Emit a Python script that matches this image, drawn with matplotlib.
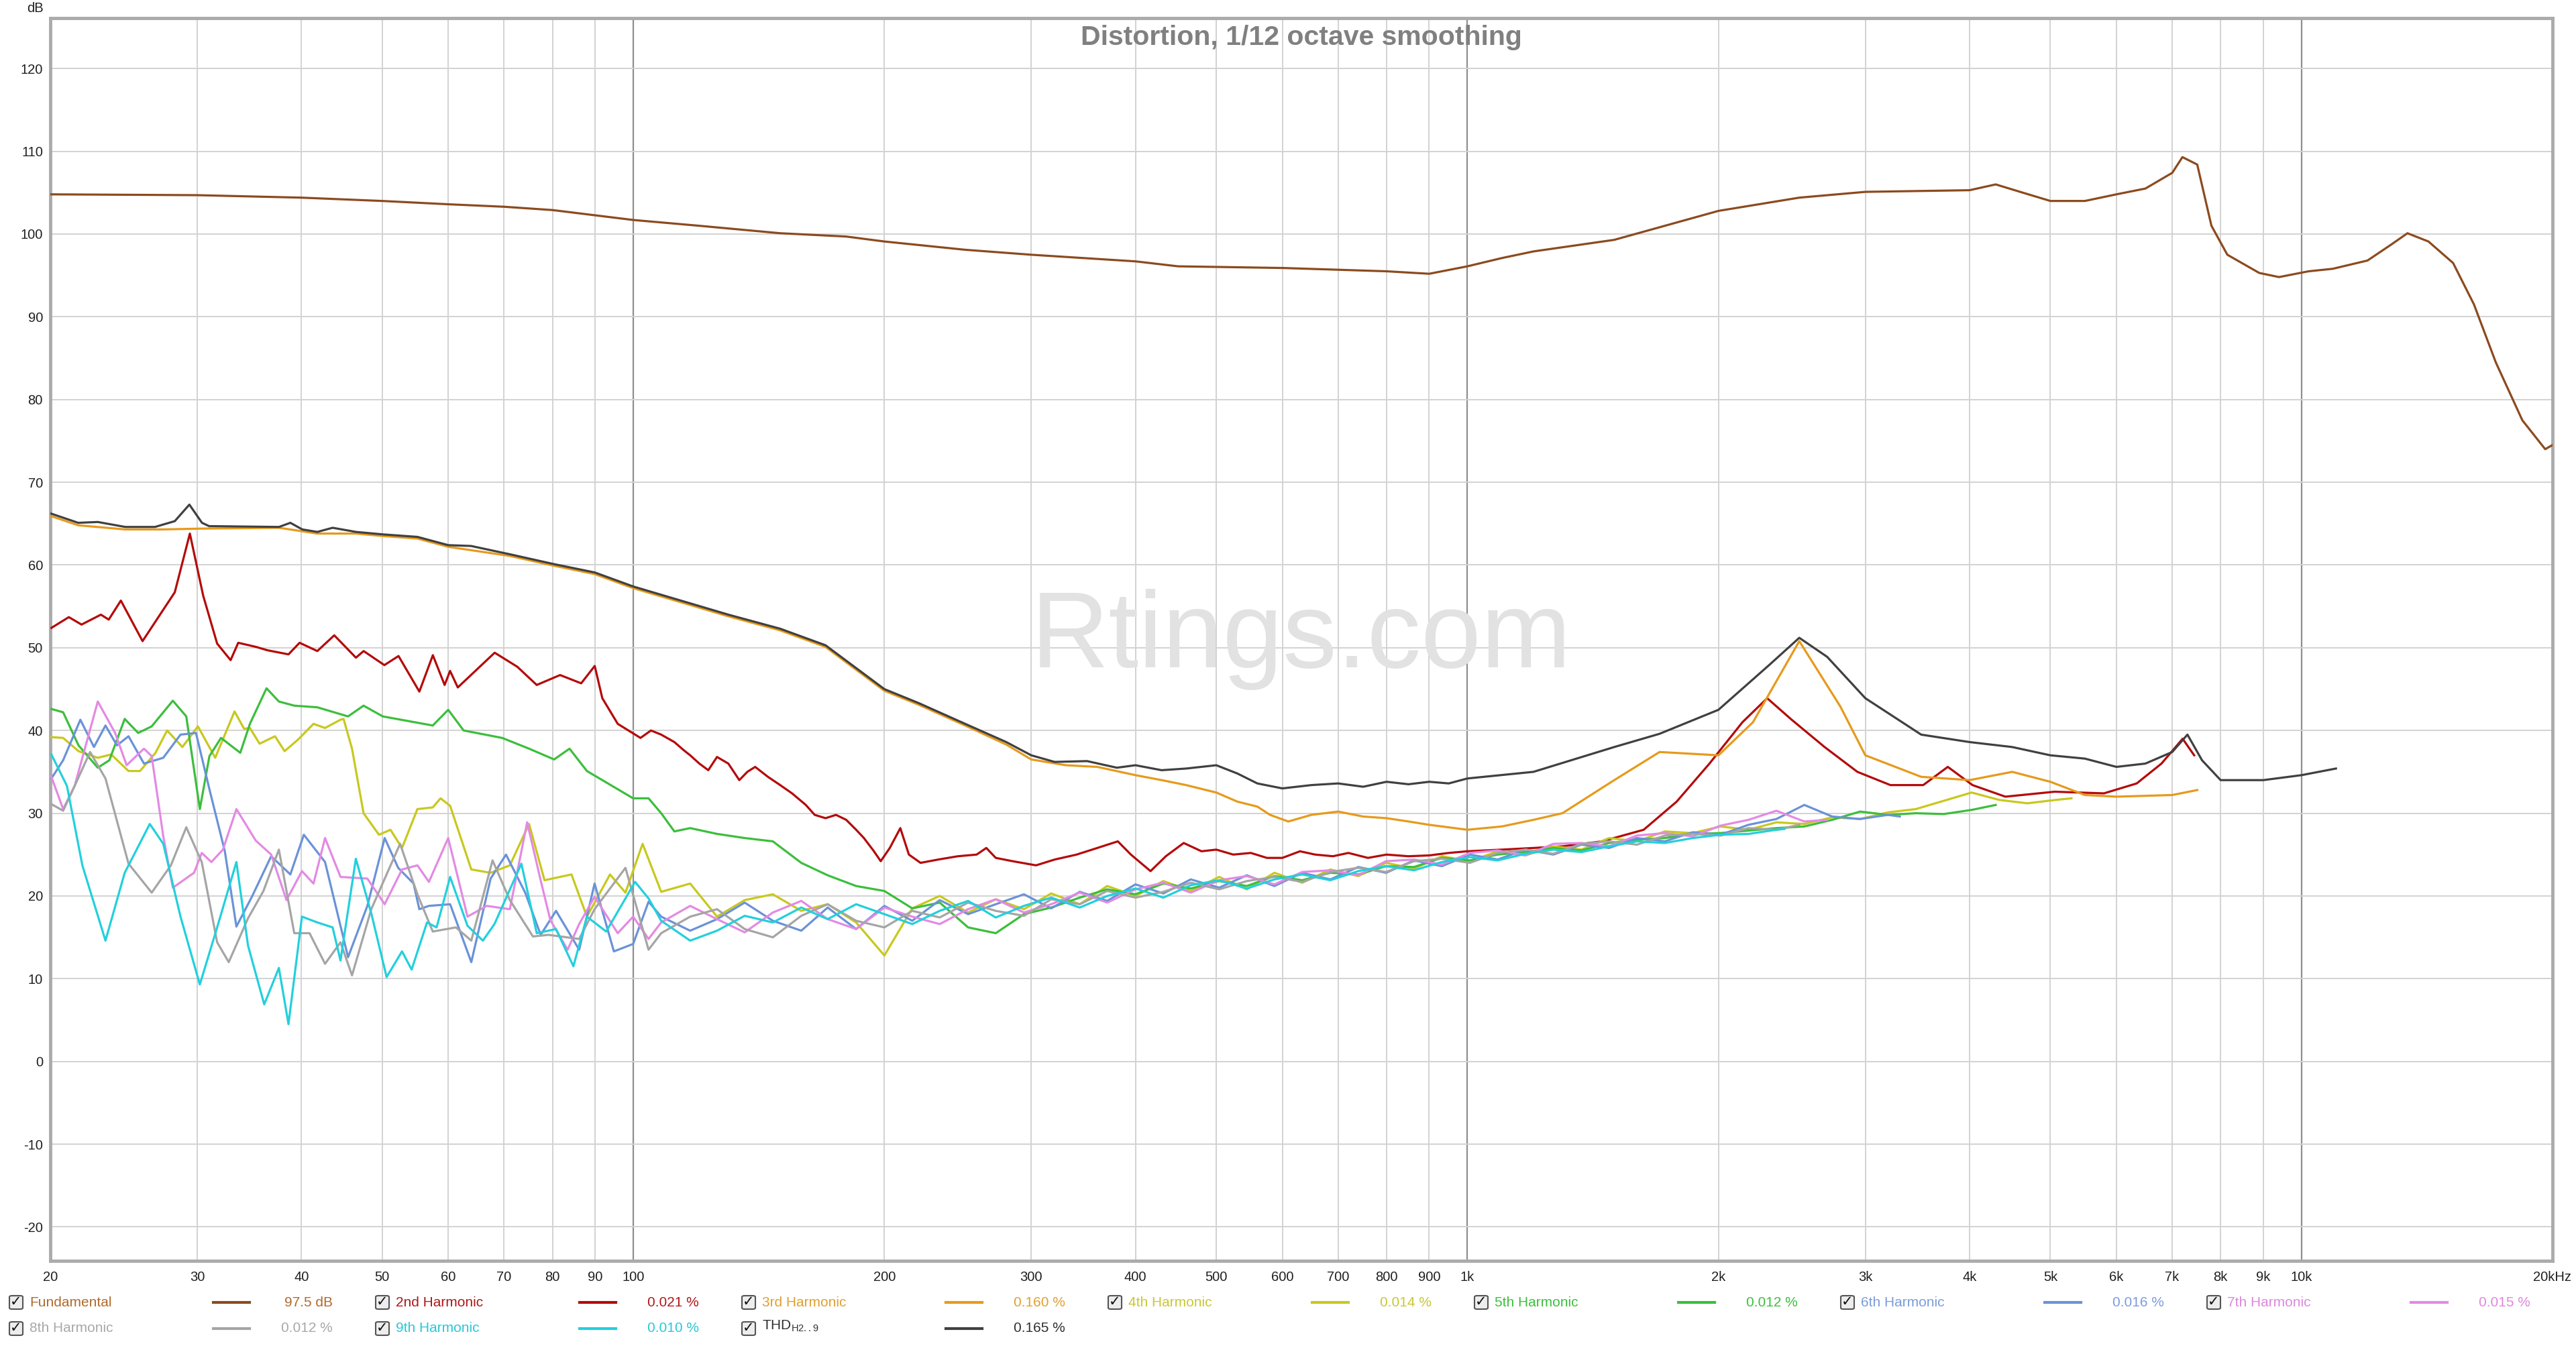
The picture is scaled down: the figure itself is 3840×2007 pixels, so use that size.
import matplotlib
matplotlib.use('Agg')
import matplotlib.pyplot as plt
from matplotlib.patches import FancyBboxPatch
from matplotlib.ticker import NullLocator

plt.rcParams['font.family'] = ['Liberation Sans', 'DejaVu Sans']

# ---------------- data (frequency in Hz, level in dB) ----------------
fund_f = [20, 30, 40, 50, 60, 70, 80, 100, 120, 150, 180, 200, 250, 300, 400, 450, 600, 800, 900,
          1000, 1100, 1200, 1500, 2000, 2500, 3000, 4000, 4300, 4600, 5000, 5500, 6000, 6500, 7000,
          7200, 7500, 7800, 8150, 8900, 9400, 10200, 10900, 12000, 12800, 13400, 14200, 15200,
          16100, 17100, 18400, 19600, 20000]
fund_db = [104.8, 104.7, 104.4, 104.0, 103.6, 103.3, 102.9, 101.7, 101.0, 100.1, 99.7, 99.1, 98.1,
           97.5, 96.7, 96.1, 95.9, 95.5, 95.2, 96.1, 97.1, 97.9, 99.3, 102.8, 104.4, 105.1, 105.3,
           106.0, 105.1, 104.0, 104.0, 104.8, 105.5, 107.4, 109.3, 108.4, 101.0, 97.5, 95.3, 94.8,
           95.5, 95.8, 96.8, 98.7, 100.1, 99.1, 96.5, 91.5, 84.5, 77.5, 74.0, 74.5]

h2_f = [20.06, 21.05, 21.8, 23.0, 23.5, 24.3, 25.8, 28.2, 29.4, 30.5, 31.7, 32.9, 33.6, 35.3, 36.4,
        38.6, 39.8, 41.8, 43.8, 46.5, 47.5, 50.3, 52.3, 55.4, 57.5, 59.4, 60.3, 61.6, 68.2, 72.6,
        76.6, 81.7, 86.6, 89.9, 91.8, 95.8, 102, 105, 108, 112, 115, 117, 120, 123, 126, 130, 134,
        137, 140, 145, 150, 155, 161, 165, 170, 175, 180, 185, 189, 194, 198, 203, 209, 214, 221,
        232, 245, 258, 265, 272, 285, 304, 320, 340, 360, 381, 395, 417, 435, 457, 480, 500, 524,
        550, 575, 600, 630, 657, 690, 720, 760, 800, 850, 900, 950, 1000, 1100, 1200, 1300, 1450,
        1627, 1782, 1951, 2137, 2288, 2448, 2681, 2935, 3215, 3520, 3767, 4033, 4416, 5060, 5797,
        6346, 6795, 7204, 7437]
h2_db = [52.4, 53.7, 52.8, 54.0, 53.4, 55.7, 50.8, 56.7, 63.8, 56.3, 50.5, 48.5, 50.6, 50.1, 49.7,
         49.2, 50.6, 49.6, 51.5, 48.8, 49.6, 47.9, 49.0, 44.7, 49.1, 45.5, 47.2, 45.2, 49.4, 47.7,
         45.5, 46.7, 45.7, 47.8, 43.9, 40.8, 39.1, 40.0, 39.5, 38.6, 37.6, 37.0, 36.0, 35.2, 36.8,
         36.0, 34.0, 35.0, 35.6, 34.4, 33.4, 32.4, 31.0, 29.8, 29.4, 29.8, 29.2, 28.0, 27.0, 25.5,
         24.2, 25.8, 28.2, 25.0, 24.0, 24.4, 24.8, 25.0, 25.8, 24.6, 24.2, 23.7, 24.4, 25.0, 25.8,
         26.6, 25.0, 23.0, 24.8, 26.4, 25.4, 25.6, 25.0, 25.2, 24.6, 24.6, 25.4, 25.0, 24.8, 25.2,
         24.6, 25.0, 24.8, 24.9, 25.2, 25.4, 25.6, 25.8, 26.0, 26.6, 28.0, 31.4, 36.0, 41.0, 43.9,
         41.3, 38.0, 35.0, 33.4, 33.4, 35.6, 33.4, 32.0, 32.6, 32.4, 33.6, 36.0, 39.0, 37.0]

thd_f = [20.06, 21.6, 22.8, 24.6, 26.7, 28.2, 29.36, 30.4, 31.0, 37.6, 38.8, 40.1, 41.8, 43.6,
         46.5, 50.1, 55.1, 60.0, 63.9, 71.1, 80.4, 89.9, 100, 130, 150, 170, 200, 220, 250, 280,
         300, 320, 350, 380, 400, 430, 460, 500, 530, 560, 600, 650, 700, 750, 800, 850, 900, 950,
         1000, 1200, 1500, 1700, 2000, 2300, 2500, 2700, 3000, 3500, 4000, 4500, 5000, 5500, 6000,
         6500, 7000, 7300, 7600, 8000, 9000, 10000, 11000]
thd_db = [66.2, 65.1, 65.2, 64.6, 64.6, 65.3, 67.3, 65.1, 64.7, 64.6, 65.1, 64.3, 64.0, 64.5, 64.0,
          63.7, 63.4, 62.4, 62.3, 61.3, 60.1, 59.1, 57.4, 54.0, 52.3, 50.3, 45.0, 43.3, 40.8, 38.6,
          37.0, 36.2, 36.3, 35.5, 35.8, 35.2, 35.4, 35.8, 34.8, 33.6, 33.0, 33.4, 33.6, 33.2, 33.8,
          33.5, 33.8, 33.6, 34.2, 35.0, 38.0, 39.6, 42.5, 47.9, 51.2, 48.9, 43.9, 39.5, 38.6, 38.0,
          37.0, 36.6, 35.6, 36.0, 37.4, 39.5, 36.4, 34.0, 34.0, 34.6, 35.4]

h3_f = [20.06, 21.6, 24.6, 27.3, 30.4, 37.6, 41.8, 46.5, 50.1, 55.1, 60.0, 71.1, 80.4, 89.9, 100,
        130, 150, 170, 200, 220, 250, 280, 300, 330, 360, 400, 430, 460, 500, 530, 560, 580, 610,
        650, 700, 750, 800, 850, 900, 1000, 1100, 1200, 1300, 1500, 1700, 2000, 2200, 2500, 2800,
        3000, 3500, 4000, 4500, 5000, 5500, 6000, 7000, 7500]
h3_db = [65.9, 64.8, 64.3, 64.3, 64.4, 64.5, 63.8, 63.8, 63.5, 63.2, 62.2, 61.1, 59.9, 58.9, 57.2,
         53.8, 52.1, 50.1, 44.8, 43.1, 40.6, 38.3, 36.5, 35.8, 35.6, 34.6, 34.0, 33.4, 32.5, 31.4,
         30.8, 29.8, 29.0, 29.8, 30.2, 29.6, 29.4, 29.0, 28.6, 28.0, 28.4, 29.2, 30.0, 34.0, 37.4,
         37.0, 41.0, 50.8, 42.9, 37.0, 34.4, 34.0, 35.0, 33.8, 32.2, 32.0, 32.2, 32.8]

h4_f = [20.06, 20.72, 21.62, 22.8, 23.66, 24.82, 25.62, 26.74, 27.61, 28.8, 30.06, 31.53, 33.26,
        34.15, 34.7, 35.64, 37.19, 38.19, 39.63, 41.36, 42.7, 44.56, 44.94, 46.0, 47.49, 49.55,
        51.15, 52.81, 55.1, 57.49, 58.73, 60.31, 63.94, 67.44, 71.12, 75.0, 78.26, 84.31, 87.98,
        93.77, 97.86, 102.6, 108, 117, 126, 136, 147, 159, 171, 185, 200, 216, 233, 252, 272, 294,
        317, 343, 370, 400, 432, 466, 504, 544, 587, 634, 685, 740, 799, 863, 932, 1007, 1087,
        1174, 1268, 1370, 1479, 1597, 1725, 1863, 2012, 2173, 2347, 2535, 2738, 2957, 3193, 3449,
        3725, 4023, 4345, 4692, 5068, 5300]
h4_db = [39.2, 39.1, 37.5, 36.7, 37.1, 35.1, 35.1, 37.3, 40.0, 38.0, 40.5, 36.7, 42.3, 40.2, 40.3,
         38.4, 39.3, 37.5, 38.9, 40.8, 40.3, 41.3, 41.4, 37.8, 30.0, 27.4, 28.0, 25.8, 30.5, 30.7,
         31.8, 30.9, 23.2, 22.8, 23.7, 28.7, 21.9, 22.6, 17.5, 22.6, 20.4, 26.3, 20.5, 21.5, 17.5,
         19.5, 20.2, 18.2, 19.0, 16.8, 12.8, 18.5, 20.0, 18.0, 19.6, 18.4, 20.3, 19.0, 21.2, 20.0,
         21.8, 20.6, 22.3, 20.8, 22.8, 21.6, 23.2, 22.4, 24.0, 23.3, 24.8, 24.2, 25.4, 24.9, 26.0,
         25.6, 27.0, 26.6, 27.8, 27.6, 28.4, 28.0, 28.9, 28.7, 29.5, 29.3, 30.1, 30.5, 31.5, 32.5,
         31.6, 31.2, 31.6, 31.8]

h5_f = [20.06, 20.72, 21.62, 22.8, 23.54, 24.56, 25.49, 26.46, 28.05, 29.11, 30.22, 31.03, 32.04,
        33.79, 34.7, 36.33, 37.59, 39.22, 41.8, 45.5, 47.49, 50.08, 57.49, 59.99, 62.6, 69.63,
        75.0, 80.36, 83.86, 87.98, 99.96, 104.3, 108, 112, 117, 126, 136, 147, 159, 171, 185, 200,
        216, 233, 252, 272, 294, 317, 343, 370, 400, 432, 466, 504, 544, 587, 634, 685, 740, 799,
        863, 932, 1007, 1087, 1174, 1268, 1370, 1479, 1597, 1725, 1863, 2012, 2173, 2347, 2535,
        2738, 2957, 3193, 3449, 3725, 4023, 4300]
h5_db = [42.6, 42.2, 38.2, 35.5, 36.4, 41.4, 39.7, 40.5, 43.6, 41.7, 30.5, 36.9, 39.1, 37.3, 40.8,
         45.1, 43.5, 43.0, 42.8, 41.7, 43.0, 41.7, 40.6, 42.5, 40.0, 39.1, 37.8, 36.5, 37.8, 35.1,
         31.8, 31.8, 30.0, 27.8, 28.2, 27.5, 27.0, 26.6, 24.0, 22.5, 21.2, 20.6, 18.5, 19.2, 16.2,
         15.5, 17.8, 18.6, 19.8, 20.8, 20.2, 21.5, 20.9, 21.8, 21.2, 22.4, 21.9, 22.8, 22.6, 23.6,
         23.5, 24.6, 24.3, 25.0, 25.3, 25.8, 25.5, 26.4, 26.8, 27.0, 27.5, 27.6, 27.9, 28.2, 28.4,
         29.2, 30.2, 29.8, 30.0, 29.9, 30.4, 31.0]

h6_f = [20.06, 20.72, 21.73, 22.56, 23.29, 24.04, 24.82, 25.9, 27.32, 28.65, 29.9, 31.03, 32.38,
        33.43, 34.89, 36.8, 38.8, 40.27, 42.7, 45.5, 47.99, 50.34, 52.25, 54.52, 55.39, 56.88,
        60.31, 63.94, 67.44, 70.37, 74.2, 77.43, 80.79, 86.12, 89.86, 94.78, 99.96, 104.3, 108,
        117, 126, 136, 147, 159, 171, 185, 200, 216, 233, 252, 272, 294, 317, 343, 370, 400, 432,
        466, 504, 544, 587, 634, 685, 740, 799, 863, 932, 1007, 1087, 1174, 1268, 1370, 1479,
        1597, 1725, 1863, 2012, 2173, 2347, 2535, 2738, 2957, 3193, 3300]
h6_db = [34.2, 36.4, 41.3, 38.0, 40.6, 38.2, 39.3, 36.0, 36.7, 39.5, 39.7, 32.9, 25.4, 16.3, 19.9,
         24.8, 22.6, 27.4, 24.1, 12.6, 18.8, 27.0, 23.4, 21.5, 18.4, 18.8, 19.0, 12.0, 22.1, 25.0,
         20.4, 15.3, 18.2, 13.5, 21.5, 13.3, 14.2, 19.3, 17.5, 15.8, 17.2, 19.2, 17.0, 15.8, 18.6,
         16.0, 18.8, 17.0, 19.5, 17.8, 19.0, 20.2, 18.5, 20.5, 19.4, 21.4, 20.3, 22.0, 21.0, 22.5,
         21.2, 22.8, 22.0, 23.5, 22.8, 24.3, 23.6, 25.0, 24.4, 25.6, 25.0, 26.2, 25.8, 27.0, 26.6,
         27.7, 27.4, 28.6, 29.3, 31.0, 29.6, 29.3, 29.8, 29.6]

h7_f = [20.06, 20.72, 21.39, 22.8, 23.92, 24.69, 25.9, 26.46, 27.32, 28.05, 29.74, 30.38, 31.2,
        32.21, 33.43, 35.26, 36.8, 38.39, 40.06, 41.36, 42.7, 44.56, 47.99, 50.34, 52.81, 55.1,
        56.88, 59.99, 63.27, 66.73, 71.12, 74.6, 77.43, 79.52, 83.41, 86.12, 89.86, 95.79, 99.96,
        104.3, 108, 117, 126, 136, 147, 159, 171, 185, 200, 216, 233, 252, 272, 294, 317, 343,
        370, 400, 432, 466, 504, 544, 587, 634, 685, 740, 799, 863, 932, 1007, 1087, 1174, 1268,
        1370, 1479, 1597, 1725, 1863, 2012, 2173, 2347, 2535, 2700]
h7_db = [34.4, 30.5, 33.3, 43.5, 39.7, 35.8, 37.8, 36.9, 27.2, 21.0, 22.8, 25.2, 24.1, 25.6, 30.5,
         26.7, 25.0, 19.5, 23.0, 21.5, 27.0, 22.3, 22.1, 19.0, 23.2, 23.7, 21.7, 27.0, 17.5, 18.8,
         18.4, 28.9, 21.9, 17.1, 13.5, 16.6, 19.9, 15.5, 17.5, 14.8, 16.8, 18.8, 17.2, 15.6, 18.0,
         19.4, 17.2, 16.0, 18.6, 17.5, 16.6, 18.4, 19.6, 18.0, 19.0, 20.4, 19.2, 20.8, 21.6, 20.4,
         21.9, 22.4, 21.4, 22.9, 23.1, 22.5, 24.2, 24.4, 23.8, 25.2, 25.5, 24.9, 26.3, 26.4, 26.0,
         27.3, 27.6, 27.2, 28.5, 29.2, 30.3, 29.0, 29.2]

h8_f = [20.06, 20.72, 21.39, 22.32, 23.29, 24.82, 26.46, 27.9, 29.11, 30.38, 31.7, 32.73, 34.52,
        36.02, 37.59, 39.22, 40.91, 42.7, 44.56, 46.0, 48.51, 52.53, 55.1, 57.49, 61.28, 63.94,
        67.8, 71.12, 75.8, 79.1, 86.12, 89.86, 97.86, 104.3, 108, 117, 126, 136, 147, 159, 171,
        185, 200, 216, 233, 252, 272, 294, 317, 343, 370, 400, 432, 466, 504, 544, 587, 634, 685,
        740, 799, 863, 932, 1007, 1087, 1174, 1268, 1370, 1479, 1597, 1725, 1863, 2012, 2173,
        2347, 2500]
h8_db = [31.1, 30.3, 33.3, 37.4, 34.2, 23.9, 20.4, 23.7, 28.3, 24.1, 14.4, 12.0, 17.3, 20.6, 25.6,
         15.5, 15.5, 11.8, 14.4, 10.4, 18.4, 26.3, 20.2, 15.7, 16.2, 14.6, 24.3, 19.5, 15.1, 15.3,
         14.8, 18.4, 23.4, 13.5, 15.5, 17.5, 18.4, 16.0, 15.0, 17.6, 19.0, 17.0, 16.2, 18.2, 17.4,
         19.2, 18.2, 17.6, 19.6, 19.0, 20.6, 19.8, 20.5, 21.6, 20.8, 21.8, 22.3, 21.7, 22.9, 23.4,
         22.9, 24.2, 24.5, 24.0, 25.2, 25.6, 25.1, 26.3, 26.6, 26.2, 27.3, 27.5, 27.3, 28.2, 28.0,
         28.6]

h9_f = [20.06, 20.94, 21.85, 23.29, 24.56, 26.32, 27.32, 28.65, 30.22, 31.7, 33.43, 34.52, 36.1,
        37.59, 38.6, 40.06, 41.8, 43.6, 44.56, 46.49, 48.51, 50.61, 52.81, 54.23, 56.58, 58.1,
        60.31, 63.27, 66.02, 68.16, 73.42, 76.6, 80.79, 84.76, 87.98, 92.78, 100.5, 104.3, 108,
        117, 126, 136, 147, 159, 171, 185, 200, 216, 233, 252, 272, 294, 317, 343, 370, 400, 432,
        466, 504, 544, 587, 634, 685, 740, 799, 863, 932, 1007, 1087, 1174, 1268, 1370, 1479,
        1597, 1725, 1863, 2012, 2173, 2347, 2400]
h9_db = [37.1, 33.3, 23.7, 14.6, 22.8, 28.7, 26.3, 17.5, 9.3, 16.2, 24.1, 14.0, 6.9, 11.3, 4.5,
         17.5, 16.8, 16.2, 12.2, 24.5, 17.9, 10.2, 13.3, 11.1, 16.8, 16.2, 22.3, 16.4, 14.6, 16.6,
         23.9, 15.5, 16.0, 11.5, 17.5, 15.7, 21.7, 19.7, 17.0, 14.6, 15.8, 17.6, 16.8, 18.6, 17.2,
         19.0, 17.8, 16.6, 18.2, 19.4, 17.4, 18.8, 19.8, 18.6, 20.0, 20.9, 19.8, 21.3, 21.9, 20.9,
         22.0, 22.6, 21.9, 23.0, 23.6, 23.1, 24.1, 24.7, 24.3, 25.1, 25.6, 25.3, 26.0, 26.6, 26.4,
         27.0, 27.4, 27.5, 28.0, 28.1]

series_names = ['Fundamental', '2nd Harmonic', '3rd Harmonic', '4th Harmonic', '5th Harmonic',
                '6th Harmonic', '7th Harmonic', '8th Harmonic', '9th Harmonic', 'THD']
series_values = ['97.5 dB', '0.021 %', '0.160 %', '0.014 %', '0.012 %', '0.016 %', '0.015 %',
                 '0.012 %', '0.010 %', '0.165 %']

x_ticks = [20, 30, 40, 50, 60, 70, 80, 90, 100, 200, 300, 400, 500, 600, 700, 800, 900,
           1000, 2000, 3000, 4000, 5000, 6000, 7000, 8000, 9000, 10000, 20000]
x_labels = ['20', '30', '40', '50', '60', '70', '80', '90', '100', '200', '300', '400', '500',
            '600', '700', '800', '900', '1k', '2k', '3k', '4k', '5k', '6k', '7k', '8k', '9k',
            '10k', '20kHz']
y_ticks = list(range(-20, 121, 10))

# ---------------- styling ----------------
line_colors = ['#8C4A1E', '#B40A0A', '#E69A1C', '#C8C81E', '#3CBE3C', '#6A92D8', '#E38AE3',
               '#A5A5A5', '#22D0DC', '#404040']
text_colors = ['#B06A2C', '#B01818', '#E0A030', '#C8C832', '#3CC03C', '#7C9CDC', '#DD88DD',
               '#A8A8A8', '#28C8D8', '#303030']

W, H = 3840, 2007
fig = plt.figure(figsize=(W / 100, H / 100), dpi=100)
L, R, T, B = 75, 3805, 27, 1880
ax = fig.add_axes([L / W, 1 - B / H, (R - L) / W, (B - T) / H])
ax.set_xscale('log')
ax.set_xlim(20, 20000)
ax.set_ylim(-24.1, 126.1)

for xv in x_ticks:
    if xv in (100, 1000, 10000):
        ax.axvline(xv, color='#8E8E8E', lw=1.6, zorder=1)
    else:
        ax.axvline(xv, color='#D2D2D2', lw=1.4, zorder=1)
for yv in y_ticks:
    ax.axhline(yv, color='#D2D2D2', lw=1.4, zorder=1)

ax.text(0.5, 0.5, 'Rtings.com', transform=ax.transAxes, ha='center', va='center',
        fontsize=116, color='#E2E2E2', zorder=1.5)
ax.text(0.5, (B - 56) / (B - T), 'Distortion, 1/12 octave smoothing', transform=ax.transAxes,
        ha='center', va='center', fontsize=29.5, fontweight='bold', color='#808080', zorder=5)

curves = [(fund_f, fund_db), (h2_f, h2_db), (h3_f, h3_db), (h4_f, h4_db), (h5_f, h5_db),
          (h6_f, h6_db), (h7_f, h7_db), (h8_f, h8_db), (h9_f, h9_db), (thd_f, thd_db)]
order = [8, 7, 6, 5, 4, 3, 1, 2, 9, 0]
for i in order:
    f, d = curves[i]
    ax.plot(f, d, color=line_colors[i], lw=2.3, zorder=3 + 0.01 * i, solid_joinstyle='round')

ax.set_xticks(x_ticks)
ax.set_xticklabels(x_labels)
ax.xaxis.set_minor_locator(NullLocator())
ax.set_yticks(y_ticks)
ax.set_yticklabels([str(v) for v in y_ticks])
ax.tick_params(axis='both', length=0, labelsize=14.5, colors='#202020')
ax.tick_params(axis='x', pad=11)
ax.tick_params(axis='y', pad=8)
for s in ax.spines.values():
    s.set_color('#ABABAB')
    s.set_linewidth(3.5)

fig.text(65 / W, 1 - 12 / H, 'dB', ha='right', va='center', fontsize=14.5, color='#202020')

# ---------------- legend ----------------
def checkbox(cx, cy):
    s = 20
    box = FancyBboxPatch(((cx - s / 2) / W, 1 - (cy + s / 2) / H), s / W, s / H,
                         boxstyle='round,pad=0,rounding_size=0.001', transform=fig.transFigure,
                         facecolor='#EDEDED', edgecolor='#555555', lw=1.5)
    fig.patches.append(box)
    fig.text(cx / W, 1 - (cy - 1) / H, '\u2713', ha='center', va='center', fontsize=15,
             fontweight='bold', color='#111111', family=['DejaVu Sans'])

positions = [(0, 0), (1, 0), (2, 0), (3, 0), (4, 0), (5, 0), (6, 0), (0, 1), (1, 1), (2, 1)]
for i, (c, r) in enumerate(positions):
    x0 = 24 + 546 * c
    y0 = 1942 + 39 * r
    checkbox(x0, y0)
    name = series_names[i]
    if name == 'THD':
        name = 'THD$_{\\mathregular{H2..9}}$'
        fig.text((x0 + 20) / W, 1 - (y0 - 4) / H, name, ha='left', va='center', fontsize=15,
                 color=text_colors[i])
    else:
        fig.text((x0 + 20) / W, 1 - y0 / H, name, ha='left', va='center', fontsize=15,
                 color=text_colors[i])
    fig.add_artist(plt.Line2D([(x0 + 294) / W, (x0 + 348) / W], [1 - y0 / H, 1 - y0 / H],
                              color=line_colors[i], lw=3, transform=fig.transFigure))
    fig.text((x0 + 472) / W, 1 - y0 / H, series_values[i], ha='right', va='center', fontsize=15,
             color=text_colors[i])

fig.savefig('out.png', dpi=100)
